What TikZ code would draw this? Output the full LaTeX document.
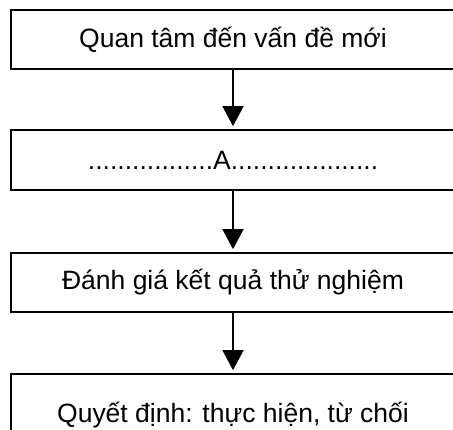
\documentclass[tikz,border=0pt]{standalone}
\usepackage{fontspec}
\setmainfont{Liberation Sans}
\usetikzlibrary{arrows.meta}
\begin{document}
\begin{tikzpicture}[x=1pt,y=1pt,
  stepbox/.style={draw=black, line width=1.7pt, minimum width=444pt, inner sep=0pt,
    font=\fontsize{26.5}{30}\selectfont},
  flow/.style={line width=1.7pt, -{Triangle[length=20pt,width=21pt]}, shorten >=3pt}]
\useasboundingbox (0,0) rectangle (453,430);
\clip (0,0) rectangle (453,430);
\fill[white] (0,0) rectangle (453,430);
\node[stepbox, minimum height=59pt] (b1) at (233,390.5) {Quan tâm đến vấn đề mới};
\node[stepbox, minimum height=60pt] (b2) at (233,270) {.................A....................};
\node[stepbox, minimum height=59pt] (b3) at (233,147.5) {Đánh giá kết quả thử nghiệm};
\node[stepbox, minimum height=82pt] (b4) at (233,15) {Quyết định: thực hiện, từ chối};
\draw[flow] (b1.south) -- (b2.north);
\draw[flow] (b2.south) -- (b3.north);
\draw[flow] (b3.south) -- (b4.north);
\end{tikzpicture}
\end{document}
